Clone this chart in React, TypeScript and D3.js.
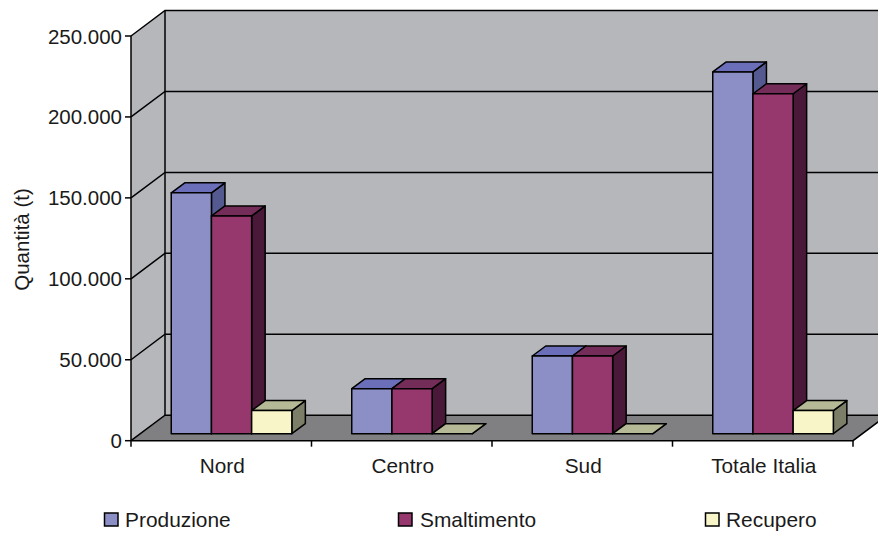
import React from "react";
import * as d3 from "d3";

const categories = ["Nord", "Centro", "Sud", "Totale Italia"];
const produzione = [148800, 27800, 48000, 223500];
const smaltimento = [134500, 27800, 48000, 210000];
const recupero = [14300, 0, 0, 14300];
const seriesNames = ["Produzione", "Smaltimento", "Recupero"];
const yTicks = [0, 50000, 100000, 150000, 200000, 250000];

const colors = [
  { front: "#8c8fc6", top: "#6b6eb8", side: "#545a8f" },
  { front: "#96376e", top: "#742c58", side: "#4a1838" },
  { front: "#f8f6c8", top: "#b6b996", side: "#7c7e68" },
];
const FONT = "'Liberation Sans', Arial, sans-serif";
const fmt = (v: number) => (v === 0 ? "0" : d3.format(",")(v).replace(/,/g, "."));

export default function App() {
  const x0 = 131, x1 = 853, y0 = 440.7, y1 = 36;
  const dx = 34, dy = -25.5;
  const x = d3.scaleBand<string>().domain(categories).range([x0, x1]);
  const y = d3.scaleLinear().domain([0, 250000]).range([y0, y1]);
  const bw = 40.2;
  const barDx = 13.5, barDy = -10;
  const offX = 10.3, offY = -7;
  const series = [produzione, smaltimento, recupero];
  const pts = (a: number[][]) => a.map((p) => p.join(",")).join(" ");
  const stroke = { stroke: "#000", strokeWidth: 1.5, strokeLinejoin: "round" as const };
  const legendX = [104.5, 398.5, 705.5];
  const legendTextX = [125, 420, 726];

  return (
    <svg width={878} height={535} style={{ position: "absolute", left: 0, top: 0, background: "#fff" }} fontFamily={FONT}>
      {/* walls */}
      <polygon points={pts([[x0 + dx, y1 + dy], [x1 + dx, y1 + dy], [x1 + dx, y0 + dy], [x0 + dx, y0 + dy]])} fill="#b6b7bb" />
      <polygon points={pts([[x0, y1], [x0 + dx, y1 + dy], [x0 + dx, y0 + dy], [x0, y0]])} fill="#b6b7bb" />
      <polygon points={pts([[x0, y0], [x0 + dx, y0 + dy], [x1 + dx, y0 + dy], [x1, y0]])} fill="#808083" />
      {/* gridlines */}
      {yTicks.map((t) => (
        <polyline key={t} points={pts([[x0, y(t)], [x0 + dx, y(t) + dy], [x1 + dx, y(t) + dy]])} fill="none" stroke="#000" strokeWidth={1.5} />
      ))}
      <line x1={x0 + dx} x2={x0 + dx} y1={y1 + dy} y2={y0 + dy} stroke="#000" strokeWidth={1.5} />
      <line x1={x0} x2={x0} y1={y1} y2={y0} stroke="#000" strokeWidth={1.5} />
      <polyline points={pts([[x0, y0], [x1, y0], [x1 + dx, y0 + dy]])} fill="none" stroke="#000" strokeWidth={1.5} />
      {/* y axis */}
      {yTicks.map((t) => (
        <g key={t}>
          <line x1={x0 - 6} x2={x0} y1={y(t)} y2={y(t)} stroke="#000" strokeWidth={1.5} />
          <text x={122} y={y(t) + 7.5} textAnchor="end" fontSize={20.5} fill="#1a1a1a">{fmt(t)}</text>
        </g>
      ))}
      <text transform="translate(29,239.5) rotate(-90)" textAnchor="middle" fontSize={20.5} fill="#1a1a1a">Quantità (t)</text>
      {/* x axis */}
      {[...categories.map((c) => x(c)!), x1].map((v, i) => (
        <line key={i} x1={v} x2={v} y1={y0} y2={y0 + 6} stroke="#000" strokeWidth={1.5} />
      ))}
      {categories.map((c) => (
        <text key={c} x={x(c)! + x.bandwidth() / 2 + 1} y={473} textAnchor="middle" fontSize={20.8} fill="#1a1a1a">{c}</text>
      ))}
      {/* bars */}
      {categories.map((c, ci) =>
        [0, 1, 2].map((si) => {
          const v = series[si][ci];
          const l = x(c)! + offX + (x.bandwidth() - 3 * bw) / 2 + si * bw;
          const r = l + bw;
          const b = y(0) + offY;
          const t = y(v) + offY;
          return (
            <g key={c + si}>
              <polygon points={pts([[r, t], [r + barDx, t + barDy], [r + barDx, b + barDy], [r, b]])} fill={colors[si].side} {...stroke} />
              <polygon points={pts([[l, t], [l + barDx, t + barDy], [r + barDx, t + barDy], [r, t]])} fill={colors[si].top} {...stroke} />
              <rect x={l} y={t} width={bw} height={b - t} fill={colors[si].front} {...stroke} />
            </g>
          );
        })
      )}
      {/* legend */}
      {seriesNames.map((n, i) => (
        <g key={n}>
          <rect x={legendX[i]} y={513} width={13.5} height={13} fill={colors[i].front} stroke="#000" strokeWidth={1.5} />
          <text x={legendTextX[i]} y={527} fontSize={20.9} fill="#1a1a1a">{n}</text>
        </g>
      ))}
    </svg>
  );
}
